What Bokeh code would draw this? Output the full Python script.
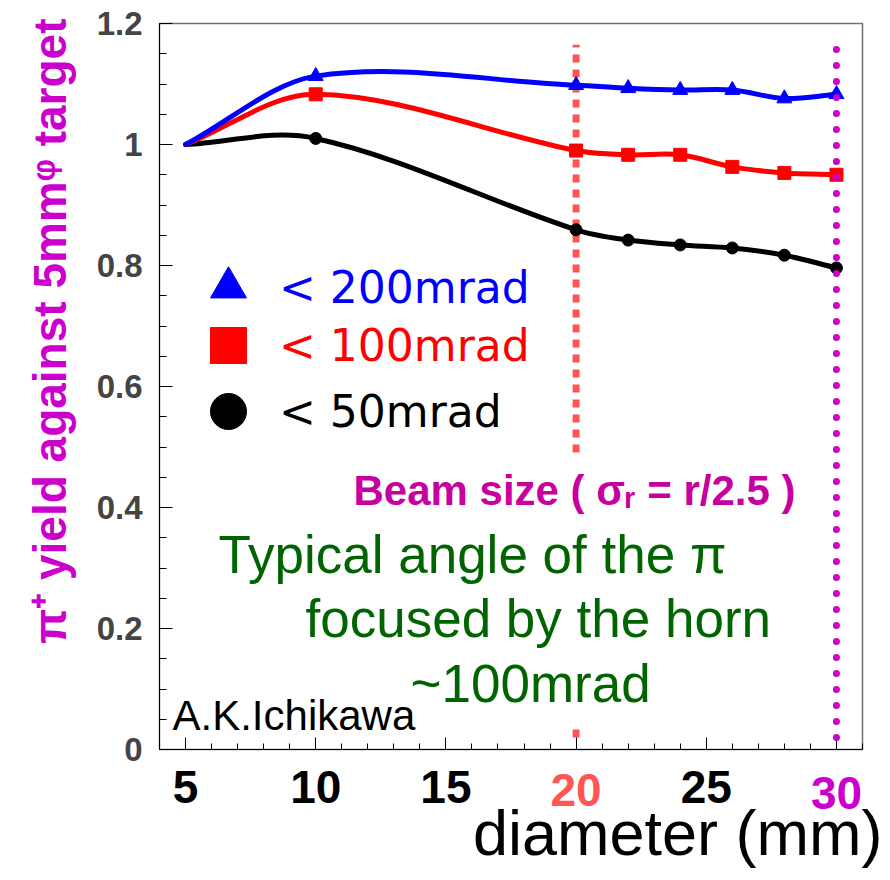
import numpy as np
from bokeh.plotting import figure
from bokeh.models import (FixedTicker, Label, Legend, LegendItem, BoxAnnotation,
                          ColumnDataSource, LinearAxis, Title)
from bokeh.embed import file_html
from bokeh.resources import INLINE

# ---------------- data ----------------
diameter = [5, 10, 20, 22, 24, 26, 28, 30]
yield_200 = [1.0, 1.113, 1.098, 1.093, 1.090, 1.090, 1.076, 1.083]
yield_100 = [1.0, 1.083, 0.990, 0.983, 0.983, 0.963, 0.953, 0.950]
yield_50 = [1.0, 1.010, 0.859, 0.842, 0.834, 0.829, 0.817, 0.796]
series_labels = ["< 200mrad", "< 100mrad", "< 50mrad"]

x_ticks = [5, 10, 15, 20, 25, 30]
x_minor = list(range(4, 32))
y_ticks = [0, 0.2, 0.4, 0.6, 0.8, 1.0, 1.2]
y_tick_labels = ["0", "0.2", "0.4", "0.6", "0.8", "1", "1.2"]
y_minor = [round(0.05 * i, 2) for i in range(25)]

ref_x = [20, 30]            # reference diameters (beam-size lines)
ref_y_low = [0.02, 0.02]
ref_y_high = [1.165, 1.17]
ref_colors = ["#ff5555", "#cc00cc"]

BLUE, RED, BLACK = "#0000ff", "#ff0000", "#000000"
MAGENTA = "#cc00cc"
BEAM = "#c800a0"
GREEN = "#006400"

TICK_FONT = "46px"
TICK_STANDOFF = 21
TICK_LABEL_H = 32   # measured extent of a 46px digit label


def bezier_source(x, y):
    x = np.asarray(x, float)
    y = np.asarray(y, float)
    m = np.empty(len(x))
    m[0] = (y[1] - y[0]) / (x[1] - x[0])
    m[-1] = (y[-1] - y[-2]) / (x[-1] - x[-2])
    m[1:-1] = (y[2:] - y[:-2]) / (x[2:] - x[:-2])
    h = np.diff(x)
    return ColumnDataSource(dict(
        x0=x[:-1], y0=y[:-1], x1=x[1:], y1=y[1:],
        cx0=x[:-1] + h / 3, cy0=y[:-1] + m[:-1] * h / 3,
        cx1=x[1:] - h / 3, cy1=y[1:] - m[1:] * h / 3))


p = figure(width=890, height=880, x_range=(4, 31), y_range=(0, 1.2),
           output_backend="svg", toolbar_location=None,
           min_border_left=159, min_border_right=28,
           min_border_top=23, min_border_bottom=131)
p.xgrid.visible = False
p.ygrid.visible = False
p.outline_line_color = "#707070"
p.outline_line_width = 1.5
p.background_fill_color = "white"
p.border_fill_color = "white"

# ---- axes ----
xa = p.xaxis[0]
xa.ticker = FixedTicker(ticks=x_ticks, minor_ticks=x_minor)
xa.major_tick_in = 12
xa.major_tick_out = 0
xa.minor_tick_in = 6
xa.minor_tick_out = 0
xa.axis_line_color = "black"
xa.major_label_text_font = "Liberation Sans"
xa.major_label_text_font_style = "bold"
xa.major_label_text_font_size = TICK_FONT
xa.major_label_text_color = "black"
xa.major_label_standoff = TICK_STANDOFF
xa.major_label_overrides = {ref_x[0]: "", ref_x[1]: ""}

# coloured tick labels for the two reference diameters
for xv, col in zip(ref_x, ref_colors):
    ax = LinearAxis(ticker=FixedTicker(ticks=[xv], minor_ticks=[]),
                    axis_line_color=None, major_tick_line_color=None,
                    minor_tick_line_color=None,
                    major_tick_in=0, major_tick_out=0,
                    major_label_text_font="Liberation Sans",
                    major_label_text_font_style="bold",
                    major_label_text_font_size=TICK_FONT,
                    major_label_text_color=col,
                    major_label_standoff=-TICK_LABEL_H)
    p.add_layout(ax, "below")

ya = p.yaxis[0]
ya.ticker = FixedTicker(ticks=y_ticks, minor_ticks=y_minor)
ya.major_tick_in = 13
ya.major_tick_out = 0
ya.minor_tick_in = 7
ya.minor_tick_out = 0
ya.axis_line_color = "black"
ya.major_label_text_font = "Liberation Sans"
ya.major_label_text_font_style = "bold"
ya.major_label_text_font_size = "33px"
ya.major_label_standoff = 17
ya.major_label_overrides = {t: s for t, s in zip(y_ticks, y_tick_labels)}

# axis titles
p.add_layout(Title(text="diameter (mm)", align="right", offset=-20,
                   text_font="Liberation Sans", text_font_style="normal",
                   text_font_size="63px", text_color="black",
                   vertical_align="top", standoff=-28), "below")
p.add_layout(Title(text="\u03c0\u207a yield against 5mm\u1d60 target",
                   align="right", offset=-5, text_font="Liberation Sans",
                   text_font_style="bold", text_font_size="46px",
                   text_color=MAGENTA, standoff=35), "left")

# ---- reference lines ----
r_red = p.segment(x0=ref_x[:1], y0=ref_y_low[:1], x1=ref_x[:1], y1=ref_y_high[:1],
                  line_color=ref_colors[0], line_width=7, line_dash="8 7",
                  line_cap="butt")
r_red.level = "underlay"

box = BoxAnnotation(left=6.5, right=29.4, bottom=0.035, top=0.485,
                    fill_color="white", fill_alpha=1.0, line_color=None,
                    level="glyph")
p.add_layout(box)

r_mag = p.segment(x0=ref_x[1:], y0=ref_y_low[1:], x1=ref_x[1:], y1=ref_y_high[1:],
                  line_color=ref_colors[1], line_width=7, line_dash="0 16",
                  line_cap="round")
r_mag.level = "annotation"

# ---- smooth curves and markers ----
series = [(yield_50, BLACK, "circle", 12),
          (yield_100, RED, "square", 13),
          (yield_200, BLUE, "triangle", 15)]
marker_renderers = {}
for vals, col, mk, sz in series:
    src = bezier_source(diameter, vals)
    p.bezier(x0="x0", y0="y0", x1="x1", y1="y1", cx0="cx0", cy0="cy0",
             cx1="cx1", cy1="cy1", source=src, line_color=col, line_width=5,
             line_cap="round")
    r = p.scatter(diameter[1:], vals[1:], marker=mk, size=sz,
                  fill_color=col, line_color=col)
    marker_renderers[col] = r

# ---- legends (one per entry so each label keeps its own colour) ----
leg_specs = [(series_labels[0], BLUE, 417),
             (series_labels[1], RED, 359),
             (series_labels[2], BLACK, 293)]
for lab, col, ypos in leg_specs:
    leg = Legend(items=[LegendItem(label=lab, renderers=[marker_renderers[col]])],
                 location=(24, ypos), glyph_width=90, glyph_height=90,
                 padding=0, margin=0, spacing=0, label_standoff=6,
                 label_text_font="DejaVu Sans", label_text_font_size="44px",
                 label_text_color=col, border_line_alpha=0,
                 background_fill_alpha=0)
    p.add_layout(leg)

# ---- annotations ----
p.add_layout(Label(x=636, y=259, x_units="screen", y_units="screen",
                   text="Beam size ( \u03c3\u1d63 = r/2.5 )", text_align="right",
                   text_baseline="middle", text_font="Liberation Sans",
                   text_font_style="bold", text_font_size="42px",
                   text_color=BEAM))
green_lines = [("Typical angle of the \u03c0", 59, 195),
               ("focused by the horn", 146, 131),
               ("~100mrad", 251, 66)]
for txt, gx, gy in green_lines:
    p.add_layout(Label(x=gx, y=gy, x_units="screen", y_units="screen",
                       text=txt, text_align="left", text_baseline="middle",
                       text_font="Liberation Sans", text_font_size="53px",
                       text_color=GREEN))
p.add_layout(Label(x=13, y=34, x_units="screen", y_units="screen",
                   text="A.K.Ichikawa", text_align="left",
                   text_baseline="middle", text_font="Liberation Sans",
                   text_font_size="42px", text_color="black"))

open("out.html", "w").write(file_html(p, INLINE))
